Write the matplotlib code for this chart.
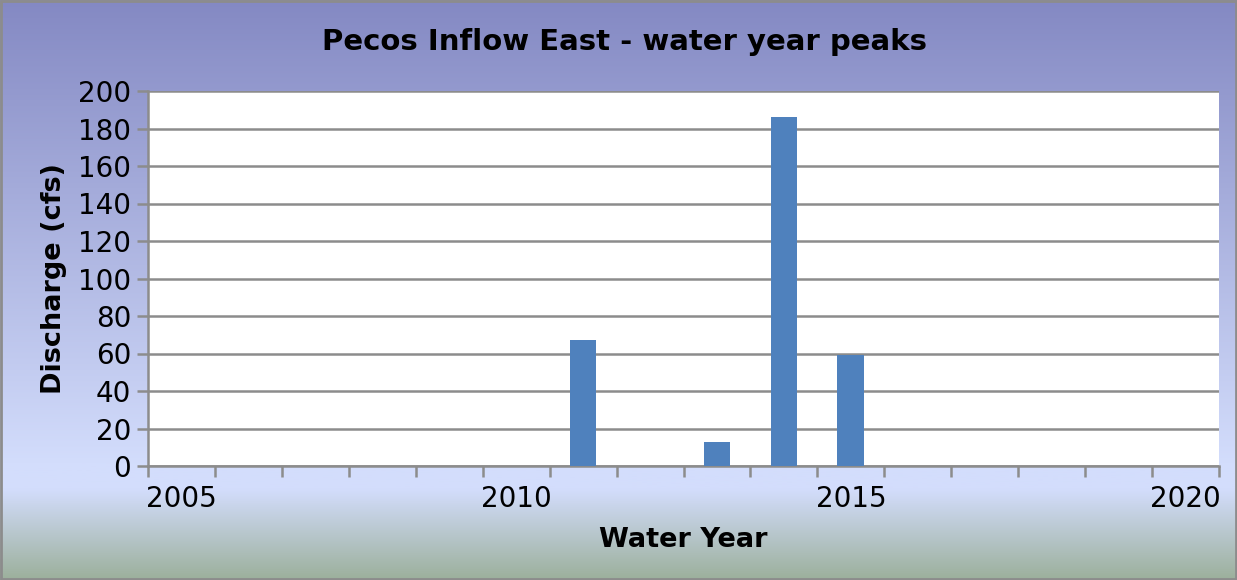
import numpy as np
import matplotlib
matplotlib.use("Agg")
import matplotlib.pyplot as plt
from matplotlib.colors import LinearSegmentedColormap

# water year peaks, cfs (0 = no peak recorded)
years = list(range(2005, 2021))
peaks = [0, 0, 0, 0, 0, 0, 67, 0, 13, 186, 59, 0, 0, 0, 0, 0]
label_years = [2005, 2010, 2015, 2020]

fig = plt.figure(figsize=(12.37, 5.8), dpi=100)

# background gradient for the chart area
bg = fig.add_axes([0, 0, 1, 1], zorder=-10)
cmap = LinearSegmentedColormap.from_list(
    "bg", [(0.0, "#8489c3"), (0.80, "#d3ddfc"), (0.845, "#d3ddfc"), (1.0, "#9cb09c")])
grad = np.linspace(0, 1, 256).reshape(-1, 1)
bg.imshow(grad, aspect="auto", cmap=cmap, extent=[0, 1, 0, 1], origin="upper")
bg.set_xlim(0, 1)
bg.set_ylim(0, 1)
bg.axis("off")
bg.add_patch(plt.Rectangle((0.0005, 0.001), 0.999, 0.998, fill=False,
                           edgecolor="#8c8c8c", linewidth=2))

ax = fig.add_axes([148 / 1237, 1 - 466 / 580, (1219 - 148) / 1237, (466 - 91) / 580])
ax.set_facecolor("white")

x = np.arange(len(years))
ax.bar(x, peaks, width=0.4, color="#4f81bd", zorder=3)

ax.set_xlim(-0.5, len(years) - 0.5)
ax.set_ylim(0, 200)
ax.set_yticks(np.arange(0, 201, 20))
ax.grid(axis="y", color="#8c8c8c", linewidth=1.8, zorder=0)

# ticks on category boundaries, labels every 5 years
ax.set_xticks(np.arange(-0.5, len(years)), minor=False)
ax.set_xticklabels([])
ax.set_xticks([years.index(y) for y in label_years], minor=True)
ax.set_xticklabels([str(y) for y in label_years], minor=True, fontsize=20)
ax.tick_params(axis="x", which="minor", length=0, pad=14)
ax.tick_params(axis="x", which="major", length=8, width=1.8, color="#8c8c8c", direction="out")
ax.tick_params(axis="y", length=8, width=1.8, color="#8c8c8c", labelsize=20, pad=4)

for s in ["top", "right"]:
    ax.spines[s].set_visible(False)
for s in ["left", "bottom"]:
    ax.spines[s].set_color("#8c8c8c")
    ax.spines[s].set_linewidth(1.8)

ax.set_xlabel("Water Year", fontsize=19.5, fontweight="bold", labelpad=10)
ax.set_ylabel("Discharge (cfs)", fontsize=19.5, fontweight="bold", labelpad=8)
fig.text(625 / 1237, 1 - 42 / 580, "Pecos Inflow East - water year peaks",
         fontsize=21, fontweight="bold", ha="center", va="center")

fig.savefig("out.png", dpi=100)
